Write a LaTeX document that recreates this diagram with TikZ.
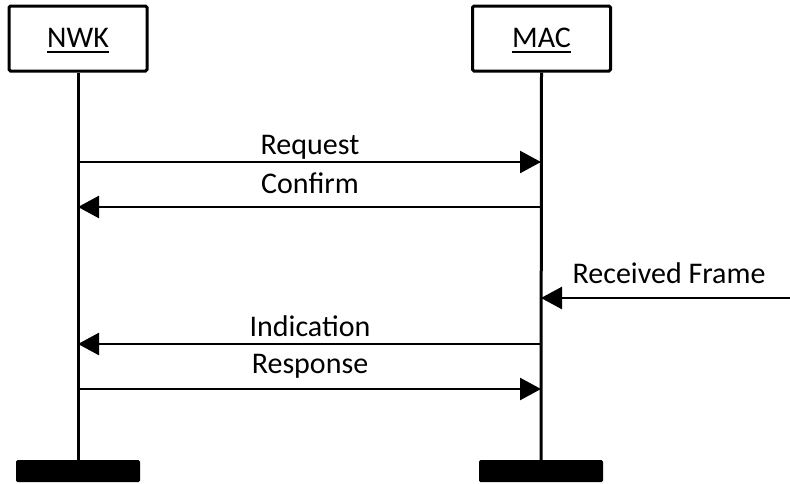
\documentclass[tikz,border=0pt]{standalone}
\usepackage{fontspec}
\setmainfont{Carlito}
\usetikzlibrary{arrows.meta}
\begin{document}
\begin{tikzpicture}[x=1pt,y=-1pt,
  every node/.style={font=\fontsize{30}{36}\selectfont, inner sep=0pt},
  entity/.style={draw, line width=3pt, rounded corners=1.5pt, minimum width=138pt, minimum height=65pt},
  endbar/.style={fill=black, rounded corners=1.5pt, minimum width=124pt, minimum height=22pt},
  lifeline/.style={line width=3pt},
  uline/.style={line width=1.8pt},
  msg/.style={line width=2.5pt, -{Triangle[length=21pt,width=22pt]}},
  lbl/.style={anchor=base}]
\useasboundingbox (0,0) rectangle (790,483);
\node[entity] (nwk) at (78,38.5) {};
\node[lbl] (nwkt) at (78,47) {NWK};
\draw[uline] ([yshift=-5pt]nwkt.base west) -- ([yshift=-5pt]nwkt.base east);
\node[entity] (mac) at (541.5,38.5) {};
\node[lbl] (mact) at (541.5,47) {MAC};
\draw[uline] ([yshift=-5pt]mact.base west) -- ([yshift=-5pt]mact.base east);
\node[endbar] (nwkend) at (78,471) {};
\node[endbar] (macend) at (541,471) {};
\draw[lifeline] (nwk.south) -- (nwkend.north);
\draw[lifeline] (mac.south) -- (macend.north);
% messages
\coordinate (n1) at (78,162); \coordinate (m1) at (541,162);
\coordinate (n2) at (78,207); \coordinate (m2) at (541,207);
\coordinate (r0) at (790,298); \coordinate (m3) at (541,298);
\coordinate (n4) at (78,344); \coordinate (m4) at (541,344);
\coordinate (n5) at (78,389); \coordinate (m5) at (541,389);
\draw[msg] (n1) -- (m1);
\draw[msg] (m2) -- (n2);
\draw[msg] (r0) -- (m3);
\draw[msg] (m4) -- (n4);
\draw[msg] (n5) -- (m5);
\node[lbl] (t1) at (310,154) {Request};
\node[lbl] (t2) at (310,193) {Confirm};
\node[lbl] (t3) at (669,283) {Received Frame};
\node[lbl] (t4) at (310,336) {Indication};
\node[lbl] (t5) at (310,373) {Response};
\end{tikzpicture}
\end{document}
